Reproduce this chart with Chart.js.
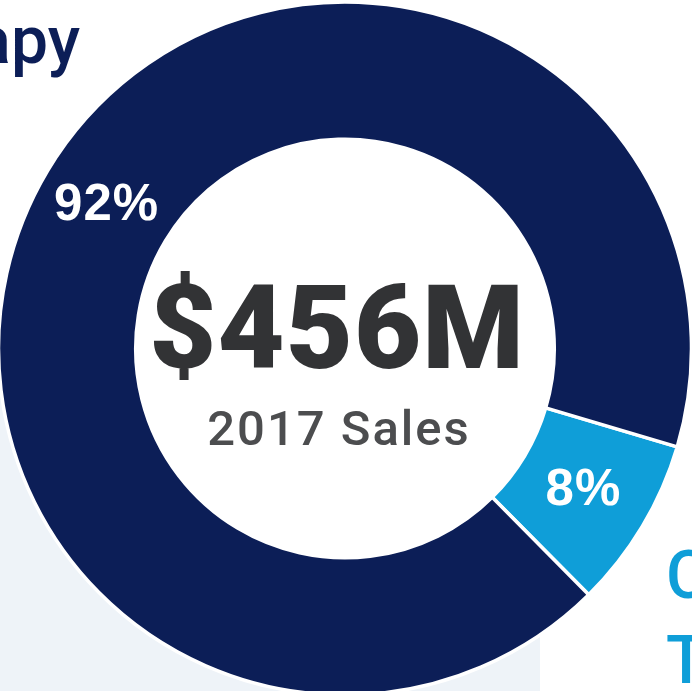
<!DOCTYPE html>
<html>
<head>
<meta charset="utf-8">
<script src="https://cdn.jsdelivr.net/npm/chart.js@4/dist/chart.umd.min.js"></script>
<style>
  html, body { margin: 0; padding: 0; background: #ffffff; }
  #wrap { position: relative; width: 692px; height: 691px; overflow: hidden; }
  canvas { display: block; }
</style>
</head>
<body>
<div id="wrap"><canvas id="c" width="692" height="691"></canvas></div>
<script>
// ---- data ----
const categories = ['Cell Therapy', 'Gene Therapy'];
const shares = [8, 92];
const shareLabels = ['8%', '92%'];
const sliceColors = ['#0f9ed8', '#0c1e57'];
const centerValue = '$456M';
const centerCaption = '2017 Sales';
const leftNameLines = ['Therapy'];
const rightNameLines = ['Cell', 'Therapy'];

const panelPlugin = {
  id: 'panel',
  beforeDraw(chart) {
    const ctx = chart.ctx;
    ctx.save();
    ctx.fillStyle = '#eef3f8';
    ctx.fillRect(0, 360, 540, 331);
    ctx.restore();
  },
  beforeDatasetsDraw(chart) {
    const meta = chart.getDatasetMeta(0);
    const arc = meta.data[0];
    if (!arc) return;
    const ctx = chart.ctx;
    ctx.save();
    ctx.fillStyle = '#ffffff';
    ctx.beginPath();
    ctx.arc(arc.x, arc.y, meta.controller.innerRadius + 2, 0, Math.PI * 2);
    ctx.fill();
    ctx.restore();
  }
};

const textPlugin = {
  id: 'texts',
  afterDatasetsDraw(chart) {
    const ctx = chart.ctx;
    const meta = chart.getDatasetMeta(0);
    ctx.save();
    // slice percentages at arc centres
    ctx.fillStyle = '#ffffff';
    ctx.font = 'bold 51px "Liberation Sans", Arial, sans-serif';
    try { ctx.letterSpacing = '1px'; } catch (e) {}
    ctx.textAlign = 'center';
    ctx.textBaseline = 'middle';
    meta.data.forEach((arc, i) => {
      const p = arc.getCenterPoint();
      ctx.fillText(shareLabels[i], p.x, p.y);
    });
    // centre text
    const cx = 337;
    ctx.fillStyle = '#323335';
    ctx.textBaseline = 'alphabetic';
    ctx.font = '900 116px Roboto, "Liberation Sans", Arial, sans-serif';
    try { ctx.letterSpacing = '1px'; } catch (e) {}
    ctx.fillText(centerValue, cx, 368);
    ctx.fillStyle = '#4c4d4f';
    ctx.font = '500 49px Roboto, "Liberation Sans", Arial, sans-serif';
    try { ctx.letterSpacing = '2px'; } catch (e) {}
    ctx.fillText(centerCaption, cx + 2, 445);
    try { ctx.letterSpacing = '0px'; } catch (e) {}
    // category names (cut by the frame)
    ctx.font = '500 66px Roboto, "Liberation Sans", Arial, sans-serif';
    ctx.fillStyle = '#0c1e57';
    ctx.textAlign = 'right';
    leftNameLines.forEach((t, i) => ctx.fillText(t, 80, 63 + i * 85));
    ctx.fillStyle = '#0f9ed8';
    ctx.textAlign = 'left';
    rightNameLines.forEach((t, i) => ctx.fillText(t, 666, 598 + i * 85));
    ctx.restore();
  }
};

new Chart(document.getElementById('c'), {
  type: 'doughnut',
  data: {
    labels: categories,
    datasets: [{
      data: shares,
      backgroundColor: sliceColors,
      borderColor: '#ffffff',
      borderWidth: 3.5,
      hoverOffset: 0
    }]
  },
  options: {
    responsive: false,
    animation: false,
    events: [],
    rotation: 106.5,
    radius: 346.5,
    cutout: '60.4%',
    layout: { padding: { left: 0, right: 2, top: 6, bottom: 0 } },
    plugins: {
      legend: { display: false },
      tooltip: { enabled: false },
      title: { display: false }
    }
  },
  plugins: [panelPlugin, textPlugin]
});
</script>
</body>
</html>
